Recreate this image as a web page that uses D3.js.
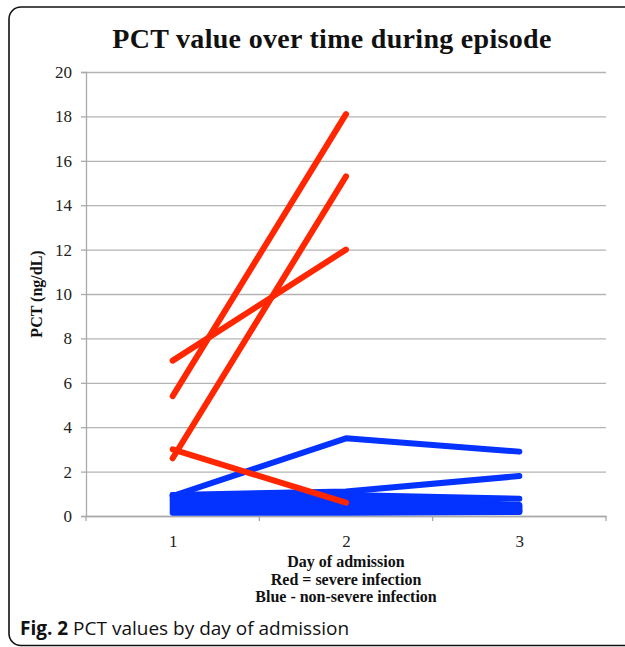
<!DOCTYPE html>
<html>
<head>
<meta charset="utf-8">
<script src="https://cdn.jsdelivr.net/npm/d3@7"></script>
<style>
  body { margin: 0; background: #fff; }
  svg { display: block; }
  .axis-label { font-family: "Liberation Serif", serif; font-size: 16px; font-weight: bold; fill: #111; }
</style>
</head>
<body>
<svg width="625" height="647"></svg>
<script>
const svg = d3.select('svg');
const width = +svg.attr('width');
const height = +svg.attr('height');

// data
const days = [1, 2, 3];
const yTicks = [0, 2, 4, 6, 8, 10, 12, 14, 16, 18, 20];
const severe = [   // red, day 1 -> day 2
  [7.0, 12.0],
  [5.4, 18.1],
  [2.6, 15.3],
  [3.0, 0.6]
];
const nonSevere = [  // blue, day 1 -> day 3
  [0.9, 3.5, 2.9],
  [0.95, 1.1, 1.8],
  [0.95, 0.95, 0.78],
  [0.85, 0.85, 0.5],
  [0.75, 0.7, 0.45],
  [0.65, 0.6, 0.4],
  [0.55, 0.5, 0.35],
  [0.45, 0.4, 0.3],
  [0.35, 0.3, 0.25],
  [0.25, 0.2, 0.2],
  [0.15, 0.15, 0.18]
];

const margin = { left: 86, top: 72, right: 19, bottom: 131 };
const innerWidth = width - margin.left - margin.right;
const innerHeight = height - margin.top - margin.bottom;

// frame round the figure: left, top and bottom edges, open on the right
const r = 12;
const frame = d3.path();
frame.moveTo(width, 7);
frame.lineTo(9 + r, 7);
frame.arcTo(9, 7, 9, 7 + r, r);
frame.lineTo(9, 645.5 - r);
frame.arcTo(9, 645.5, 9 + r, 645.5, r);
frame.lineTo(width, 645.5);
svg.append('path')
  .attr('d', frame.toString())
  .attr('fill', 'none')
  .attr('stroke', '#111')
  .attr('stroke-width', 1.6);

svg.append('text')
  .attr('x', 332).attr('y', 48)
  .attr('text-anchor', 'middle')
  .attr('font-family', '"Liberation Serif", serif')
  .attr('font-weight', 'bold')
  .attr('font-size', 28)
  .attr('letter-spacing', 0.3)
  .attr('fill', '#111')
  .text('PCT value over time during episode');

const g = svg.append('g')
  .attr('transform', `translate(${margin.left}, ${margin.top})`);

const xBand = d3.scaleBand().domain(days).range([0, innerWidth]);
const xScale = d3.scalePoint().domain(days).range([0, innerWidth]).padding(0.5);
const yScale = d3.scaleLinear().domain([0, 20]).range([innerHeight, 0]);

// horizontal gridlines
const gridG = g.append('g')
  .call(d3.axisLeft(yScale).tickValues(yTicks).tickSize(-innerWidth));
gridG.select('.domain').remove();
gridG.selectAll('text').remove();
gridG.selectAll('line').attr('stroke', '#b4b4b4').attr('stroke-width', 1.3);

// y axis
const yAxisG = g.append('g').call(d3.axisLeft(yScale).tickValues(yTicks).tickSize(5).tickPadding(9));
yAxisG.selectAll('line').attr('stroke', '#aaa').attr('stroke-width', 1.3);
yAxisG.select('.domain').attr('stroke', '#aaa').attr('stroke-width', 1.3);
yAxisG.selectAll('text')
  .attr('font-family', '"Liberation Serif", serif')
  .attr('font-size', 17)
  .attr('fill', '#222');

// x axis: labels at category centres, tick marks between categories
const xAxisG = g.append('g')
  .attr('transform', `translate(0, ${innerHeight})`)
  .call(d3.axisBottom(xScale).tickSize(0).tickPadding(19));
xAxisG.select('.domain').attr('stroke', '#aaa').attr('stroke-width', 1.3);
xAxisG.selectAll('text')
  .attr('font-family', '"Liberation Serif", serif')
  .attr('font-size', 17)
  .attr('fill', '#222');
xAxisG.selectAll('.xmark')
  .data(days.map(d => xBand(d)).concat([innerWidth]))
  .enter().append('line')
  .attr('x1', d => d).attr('x2', d => d)
  .attr('y1', 0).attr('y2', 5)
  .attr('stroke', '#aaa').attr('stroke-width', 1.3);

const line = d3.line()
  .x((v, i) => xScale(days[i]))
  .y(v => yScale(v));

g.selectAll('.blue').data(nonSevere)
  .enter().append('path')
  .attr('d', line)
  .attr('fill', 'none')
  .attr('stroke', '#0433ff')
  .attr('stroke-width', 6)
  .attr('stroke-linecap', 'round')
  .attr('stroke-linejoin', 'round');

g.selectAll('.red').data(severe)
  .enter().append('path')
  .attr('d', line)
  .attr('fill', 'none')
  .attr('stroke', '#ff2600')
  .attr('stroke-width', 6)
  .attr('stroke-linecap', 'round')
  .attr('stroke-linejoin', 'round');

// axis titles
g.append('text')
  .attr('class', 'axis-label')
  .attr('transform', `translate(-44, ${innerHeight / 2}) rotate(-90)`)
  .attr('text-anchor', 'middle')
  .text('PCT (ng/dL)');

const xTitle = ['Day of admission', 'Red = severe infection', 'Blue - non-severe infection'];
g.selectAll('.xtitle').data(xTitle)
  .enter().append('text')
  .attr('class', 'axis-label')
  .attr('x', innerWidth / 2)
  .attr('y', (d, i) => innerHeight + 51 + i * 17.5)
  .attr('text-anchor', 'middle')
  .text(d => d);

// figure caption
const cap = svg.append('text')
  .attr('x', 20).attr('y', 635)
  .attr('font-family', '"Open Sans", sans-serif')
  .attr('font-size', 19)
  .attr('fill', '#111');
cap.append('tspan').attr('font-weight', 'bold').text('Fig. 2');
cap.append('tspan').text(' PCT values by day of admission');
</script>
</body>
</html>
